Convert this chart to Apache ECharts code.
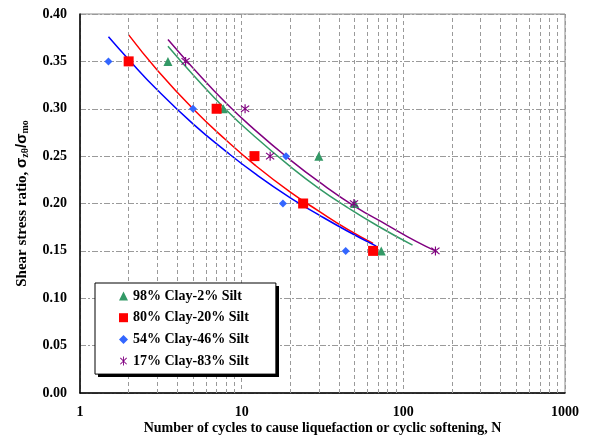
<!DOCTYPE html>
<html>
<head>
    <meta charset="utf-8">
</head>
<body style="margin: 0; background: #ffffff;">
    <div id="container" style="width: 592px; height: 435px;"></div>

    <script type="text/javascript" src="https://cdn.jsdelivr.net/npm/echarts@6/dist/echarts.min.js"></script>
    <script type="text/javascript">
        // measured points [N, stress ratio]
        var clay98 = [[3.5, 0.35], [7.7, 0.30], [30, 0.25], [50, 0.20], [73, 0.15]];
        var clay80 = [[2.0, 0.35], [7.0, 0.30], [12, 0.25], [24, 0.20], [65, 0.15]];
        var clay54 = [[1.5, 0.35], [5.0, 0.30], [18.8, 0.25], [18, 0.20], [44, 0.15]];
        var clay17 = [[4.5, 0.35], [10.5, 0.30], [15, 0.25], [49.5, 0.20], [158, 0.15]];

        // trend curves
        var fit98 = [[3.5, 0.366], [5, 0.336], [8, 0.299], [12, 0.271], [20, 0.239], [30, 0.216], [45, 0.196], [70, 0.176], [114, 0.156]];
        var fit80 = [[2.0, 0.378], [3, 0.341], [5, 0.300], [8, 0.267], [12, 0.241], [20, 0.212], [30, 0.192], [45, 0.173], [65, 0.158]];
        var fit54 = [[1.5, 0.376], [2, 0.352], [3, 0.320], [5, 0.284], [8, 0.255], [12, 0.232], [20, 0.206], [30, 0.188], [45, 0.171], [68, 0.155]];
        var fit17 = [[3.5, 0.373], [5, 0.343], [8, 0.306], [12, 0.278], [20, 0.246], [30, 0.223], [50, 0.197], [80, 0.177], [120, 0.160], [158, 0.150]];

        var names = ['98% Clay-2% Silt', '80% Clay-20% Silt', '54% Clay-46% Silt', '17% Clay-83% Silt'];
        var minorTicks = [2, 3, 4, 5, 6, 7, 8, 9, 20, 30, 40, 50, 60, 70, 80, 90, 200, 300, 400, 500, 600, 700, 800, 900];

        var serif = '"Liberation Serif", "Times New Roman", serif';
        var starPath = 'path://M-0.5,-5L0.5,-5L0.5,5L-0.5,5Z' +
            'M-3.18,-3.89L3.89,3.18L3.18,3.89L-3.89,-3.18Z' +
            'M-3.89,3.18L3.18,-3.89L3.89,-3.18L-3.18,3.89Z';

        var dom = document.getElementById('container');
        var myChart = echarts.init(dom, null, { renderer: 'canvas' });

        function curve(data, color) {
            return {
                type: 'line',
                data: data,
                smooth: true,
                showSymbol: false,
                silent: true,
                lineStyle: { color: color, width: 1.5 },
                z: 3
            };
        }

        function points(name, data, symbol, size, color) {
            return {
                name: name,
                type: 'scatter',
                data: data,
                symbol: symbol,
                symbolSize: size,
                itemStyle: { color: color, opacity: 1 },
                z: 5
            };
        }

        var option = {
            animation: false,
            grid: {
                left: 80,
                top: 14,
                right: 27,
                bottom: 42,
                outerBoundsMode: 'none',
                containLabel: false,
                show: true,
                borderColor: '#8a8a8a',
                borderWidth: 1
            },
            // legend drop shadow
            graphic: [{
                type: 'rect',
                left: 98,
                top: 286,
                shape: { width: 181, height: 91 },
                style: { fill: '#000000' },
                z: 90
            }],
            legend: {
                data: names,
                orient: 'vertical',
                left: 95,
                top: 283,
                padding: [6, 27, 6, 24],
                itemGap: 7.7,
                itemWidth: 9,
                itemHeight: 9,
                itemStyle: { opacity: 1 },
                backgroundColor: '#ffffff',
                borderColor: '#000000',
                borderWidth: 1,
                z: 100,
                textStyle: {
                    fontFamily: serif,
                    fontWeight: 'bold',
                    fontSize: 14,
                    lineHeight: 14,
                    color: '#000000'
                }
            },
            xAxis: {
                type: 'log',
                logBase: 10,
                min: 1,
                max: 1000,
                name: 'Number of cycles to cause liquefaction or cyclic softening, N',
                nameLocation: 'middle',
                nameGap: 28,
                nameMoveOverlap: false,
                nameTextStyle: {
                    fontFamily: serif,
                    fontWeight: 'bold',
                    fontSize: 14,
                    color: '#000000'
                },
                axisLine: { lineStyle: { color: '#000000', width: 1.5 } },
                axisTick: { show: false },
                axisLabel: {
                    fontFamily: serif,
                    fontWeight: 'bold',
                    fontSize: 14,
                    color: '#000000',
                    margin: 12,
                    formatter: function (v) { return String(Math.round(v)); }
                },
                splitLine: {
                    show: true,
                    lineStyle: { color: '#9a9a9a', type: [4, 3], width: 1 }
                }
            },
            yAxis: {
                type: 'value',
                min: 0,
                max: 0.4,
                interval: 0.05,
                name: 'Shear stress ratio, {s|σ}{sub|zθ}{s|/σ}{sub|mo}',
                nameLocation: 'middle',
                nameGap: 50,
                nameTextStyle: {
                    fontFamily: serif,
                    fontWeight: 'bold',
                    fontSize: 15,
                    color: '#000000',
                    rich: {
                        s: {
                            fontFamily: 'Liberation Sans, Arial, sans-serif',
                            fontWeight: 'bold',
                            fontSize: 15,
                            color: '#000000'
                        },
                        sub: {
                            fontFamily: serif,
                            fontWeight: 'bold',
                            fontSize: 10,
                            color: '#000000',
                            verticalAlign: 'bottom',
                            padding: [6, 0, 0, 0]
                        }
                    }
                },
                axisLine: { show: true, lineStyle: { color: '#000000', width: 1.5 } },
                axisTick: { show: false },
                axisLabel: {
                    fontFamily: serif,
                    fontWeight: 'bold',
                    fontSize: 14,
                    color: '#000000',
                    margin: 13,
                    formatter: function (v) { return v.toFixed(2); }
                },
                splitLine: {
                    show: true,
                    lineStyle: { color: '#9a9a9a', type: [6, 2, 2, 2], width: 1 }
                }
            },
            series: [
                {
                    type: 'line',
                    data: [],
                    silent: true,
                    markLine: {
                        silent: true,
                        symbol: 'none',
                        label: { show: false },
                        lineStyle: { color: '#9a9a9a', type: [4, 3], width: 1 },
                        data: minorTicks.map(function (t) { return { xAxis: t }; })
                    },
                    z: 1
                },
                curve(fit98, '#339966'),
                curve(fit80, '#ff0000'),
                curve(fit54, '#0000ff'),
                curve(fit17, '#800080'),
                points(names[0], clay98, 'triangle', 9, '#339966'),
                points(names[1], clay80, 'rect', 10, '#ff0000'),
                points(names[2], clay54, 'diamond', [8, 8], '#3366ff'),
                points(names[3], clay17, starPath, 9, '#800080')
            ]
        };

        myChart.setOption(option);
        window.addEventListener('resize', myChart.resize);
    </script>
</body>
</html>
